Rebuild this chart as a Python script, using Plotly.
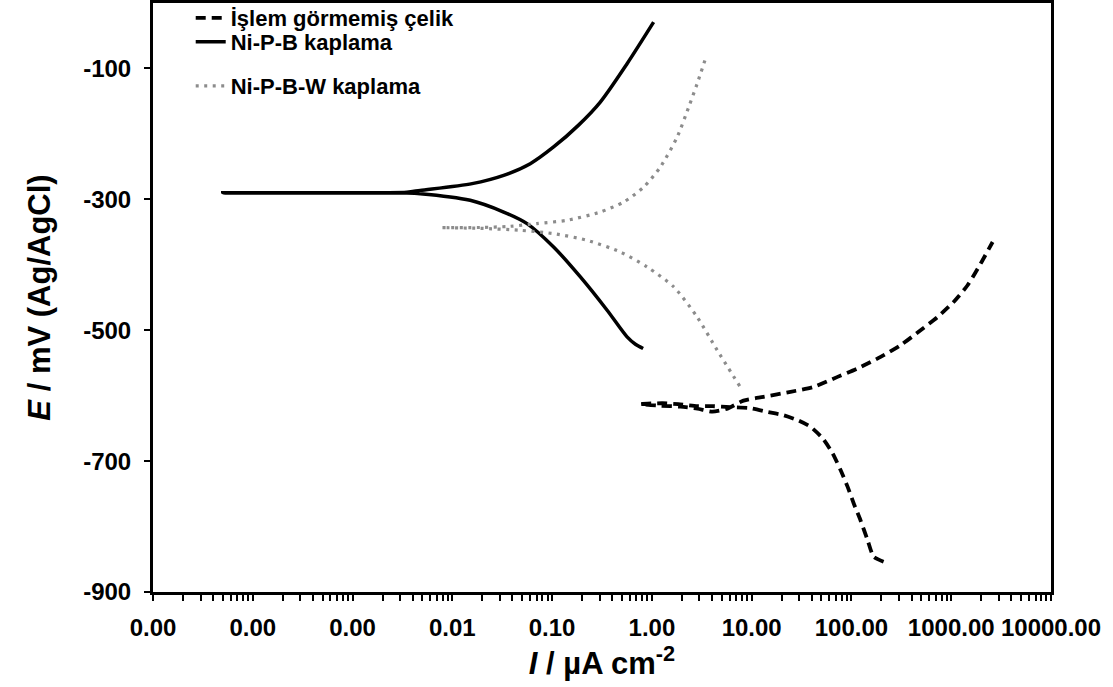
import plotly.graph_objects as go

# ---- data ----
series_names = ["İşlem görmemiş çelik", "Ni-P-B kaplama", "Ni-P-B-W kaplama"]

steel_I = [210, 167, 145, 123, 105, 91.4, 77.8, 64.6, 51.3, 38.9,
           28.8, 20.8, 14.4, 9.7, 6.13, 4.05, 2.86, 1.84, 1.27, 0.77,
           1.22, 1.93, 2.86, 4.05, 5.72, 8.28, 13.1, 24.5, 41.7, 72.6,
           115, 196, 311, 493, 731, 1057, 1459, 1972, 2600]
steel_E = [-853.7, -846.1, -820.6, -790, -764, -739, -713.7, -687.8, -664.9, -647.6,
           -637.4, -629.8, -624.7, -619.1, -617.6, -616, -616, -613, -611.5, -613,
           -615.3, -616.8, -619.8, -624.5, -619.8, -607.6, -601.8, -594.2, -586.6, -571.3,
           -558.5, -540.8, -522.9, -500, -479.7, -456.8, -431.3, -398.2, -365.2]

nipb_I = [0.817, 0.684, 0.564, 0.356, 0.192, 0.1035, 0.056, 0.0327, 0.0151, 0.00476,
          0.0035, 3.0e-4, 5.0e-5, 3.0e-4, 0.0035, 0.00476, 0.0158, 0.0327, 0.0604, 0.1035,
          0.183, 0.304, 0.564, 1.04]
nipb_E = [-528, -521.4, -510.2, -469.5, -418.6, -372.8, -337.1, -319.4, -301.5, -291.3,
          -290.4, -290.5, -290.1, -289.8, -289.0, -286.3, -276, -263.4, -245.5, -220,
          -187, -151.4, -92.8, -29.3]

nipbw_I = [7.59, 4.51, 2.84, 1.66, 0.895, 0.483, 0.224, 0.1035, 0.048, 0.019,
           0.00787, 0.019, 0.0381, 0.0705, 0.1406, 0.304, 0.521, 0.828, 1.216, 1.79,
           2.34, 2.84, 3.44]
nipbw_E = [-585.5, -530.5, -479.7, -433.9, -403.3, -380.5, -362.6, -352.4, -347.3, -344.3,
           -343.2, -343.0, -341.2, -337, -332, -319.4, -304.1, -281.2, -250.7, -204.9,
           -159, -123.4, -85.2]

x_decades = [1e-5, 1e-4, 1e-3, 1e-2, 1e-1, 1, 10, 100, 1000, 10000]
x_tick_labels = ["0.00", "0.00", "0.00", "0.01", "0.10", "1.00", "10.00",
                 "100.00", "1000.00", "10000.00"]
y_ticks = [-900, -700, -500, -300, -100]
y_tick_labels = ["-900", "-700", "-500", "-300", "-100"]

# ---- figure ----
FONT = "Liberation Sans, Arial, sans-serif"

fig = go.Figure()
fig.add_trace(go.Scatter(x=steel_I, y=steel_E, mode="lines", name=series_names[0],
                         line=dict(color="black", width=3.8, dash="10px,6px",
                                   shape="spline", smoothing=0.6),
                         legend="legend"))
fig.add_trace(go.Scatter(x=nipb_I, y=nipb_E, mode="lines", name=series_names[1],
                         line=dict(color="black", width=3.5, shape="spline", smoothing=0.8),
                         legend="legend2"))
fig.add_trace(go.Scatter(x=nipbw_I, y=nipbw_E, mode="lines", name=series_names[2],
                         line=dict(color="#8c8c8c", width=3.2, dash="3px,5.5px",
                                   shape="spline", smoothing=0.7),
                         legend="legend3"))

# tick positions: decades labelled, 2..9 multiples unlabelled
tickvals, ticktext = [], []
for d, lab in zip(x_decades, x_tick_labels):
    tickvals.append(d)
    ticktext.append(lab)
    if d < x_decades[-1]:
        for m in range(2, 10):
            tickvals.append(d * m)
            ticktext.append("")

W, H = 1113, 687
ml, mr, mt, mb = 153, 62, 3, 95
ph = H - mt - mb

def ypaper(px):
    return 1 - (px - mt) / ph

legend_common = dict(bgcolor="rgba(0,0,0,0)", borderwidth=0,
                     font=dict(family=FONT, size=22, color="black", weight="bold"),
                     xanchor="left", yanchor="middle", x=0.042, tracegroupgap=0,
                     itemclick=False)

fig.update_layout(
    width=W, height=H,
    margin=dict(l=ml, r=mr, t=mt, b=mb, autoexpand=False),
    paper_bgcolor="white", plot_bgcolor="white",
    font=dict(family=FONT, color="black"),
    showlegend=True,
    legend=dict(**legend_common, y=ypaper(18)),
    legend2=dict(**legend_common, y=ypaper(42)),
    legend3=dict(**legend_common, y=ypaper(86)),
    xaxis=dict(type="log", range=[-5, 4], tickvals=tickvals, ticktext=ticktext,
               showgrid=False, zeroline=False, showline=True, linecolor="black",
               linewidth=3, mirror=True, ticks="outside", ticklen=6, tickwidth=2,
               tickcolor="black", ticklabelstandoff=6,
               tickfont=dict(family=FONT, size=24, color="black", weight="bold"),
               title=dict(text="<i>I</i> / µA cm<sup>-2</sup>", standoff=2,
                          font=dict(family=FONT, size=31, color="black", weight="bold"))),
    yaxis=dict(range=[-900, 0], tickvals=y_ticks, ticktext=y_tick_labels,
               showgrid=False, zeroline=False, showline=True, linecolor="black",
               linewidth=3, mirror=True, ticks="outside", ticklen=6, tickwidth=2,
               tickcolor="black", ticklabelstandoff=8,
               tickfont=dict(family=FONT, size=24, color="black", weight="bold"),
               title=dict(text="<i>E</i> / mV (Ag/AgCl)", standoff=24,
                          font=dict(family=FONT, size=31, color="black", weight="bold"))),
)

fig.write_html("out.html")
